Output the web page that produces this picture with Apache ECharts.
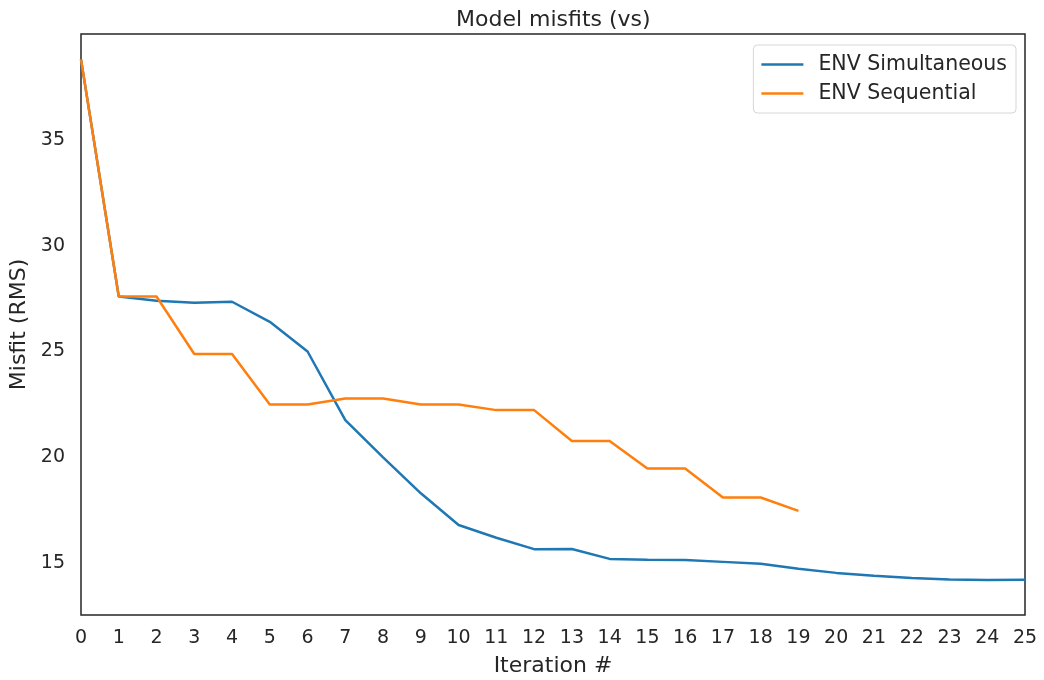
<!DOCTYPE html>
<html>
<head>
<meta charset="utf-8">
<script src="https://cdn.jsdelivr.net/npm/echarts@6/dist/echarts.min.js"></script>
<style>html,body{margin:0;padding:0;background:#fff}#c{width:1044px;height:680px}</style>
</head>
<body>
<div id="c"></div>
<script>
const iterations = [0,1,2,3,4,5,6,7,8,9,10,11,12,13,14,15,16,17,18,19,20,21,22,23,24,25];
const simultaneous = [38.8,27.6,27.4,27.3,27.35,26.4,25.0,21.76,20.0,18.3,16.8,16.2,15.66,15.67,15.2,15.16,15.15,15.06,14.97,14.73,14.54,14.4,14.3,14.23,14.2,14.21];
const sequential = [38.8,27.6,27.6,24.88,24.88,22.5,22.5,22.78,22.78,22.5,22.5,22.23,22.23,20.77,20.77,19.47,19.47,18.1,18.1,17.47];
const seriesNames = ['ENV Simultaneous','ENV Sequential'];
const titleText = 'Model misfits (vs)';
const xName = 'Iteration #';
const yName = 'Misfit (RMS)';

const txt = '#262626';
const font = 'DejaVu Sans';
const blue = '#1f77b4', orange = '#ff7f0e';
const chart = echarts.init(document.getElementById('c'), null, {renderer:'canvas'});
chart.setOption({
  backgroundColor:'#fff',
  animation:false,
  title:{text:titleText,left:456,top:9,padding:0,textStyle:{fontFamily:font,fontSize:22,fontWeight:'normal',color:txt}},
  legend:{
    orient:'vertical',right:28,top:45,
    itemWidth:42,itemHeight:2.5,itemGap:8,
    padding:[9,9,9,8],
    borderColor:'#d6d6d6',borderWidth:1,borderRadius:4,backgroundColor:'#fff',
    textStyle:{fontFamily:font,fontSize:20.5,color:txt,padding:[0,0,0,10]},
    data:[{name:seriesNames[0],icon:'rect',itemStyle:{color:blue}},{name:seriesNames[1],icon:'rect',itemStyle:{color:orange}}]
  },
  grid:{left:81,right:19,top:34,bottom:65,show:true,borderColor:txt,borderWidth:1.5,containLabel:false,outerBoundsMode:'none'},
  xAxis:{
    type:'value',min:0,max:25,interval:1,
    name:xName,nameLocation:'middle',nameGap:40,
    nameTextStyle:{fontFamily:font,fontSize:22,color:txt},
    axisLine:{show:false},axisTick:{show:false},splitLine:{show:false},
    axisLabel:{fontFamily:font,fontSize:19,color:txt,margin:14}
  },
  yAxis:{
    type:'value',min:12.55,max:40.0,splitNumber:5,
    name:yName,nameLocation:'middle',nameGap:37,
    nameTextStyle:{fontFamily:font,fontSize:22,color:txt},
    axisLine:{show:false},axisTick:{show:false},splitLine:{show:false},
    axisLabel:{fontFamily:font,fontSize:19,color:txt,margin:16,showMinLabel:false,showMaxLabel:false,
      formatter:function(v){return (v%5===0 && v<40)?String(v):'';}}
  },
  series:[
    {name:seriesNames[0],type:'line',symbol:'none',color:blue,lineStyle:{width:2.5,color:blue},
     data:simultaneous.map((v,i)=>[iterations[i],v])},
    {name:seriesNames[1],type:'line',symbol:'none',color:orange,lineStyle:{width:2.5,color:orange},
     data:sequential.map((v,i)=>[iterations[i],v])}
  ]
});
</script>
</body>
</html>
